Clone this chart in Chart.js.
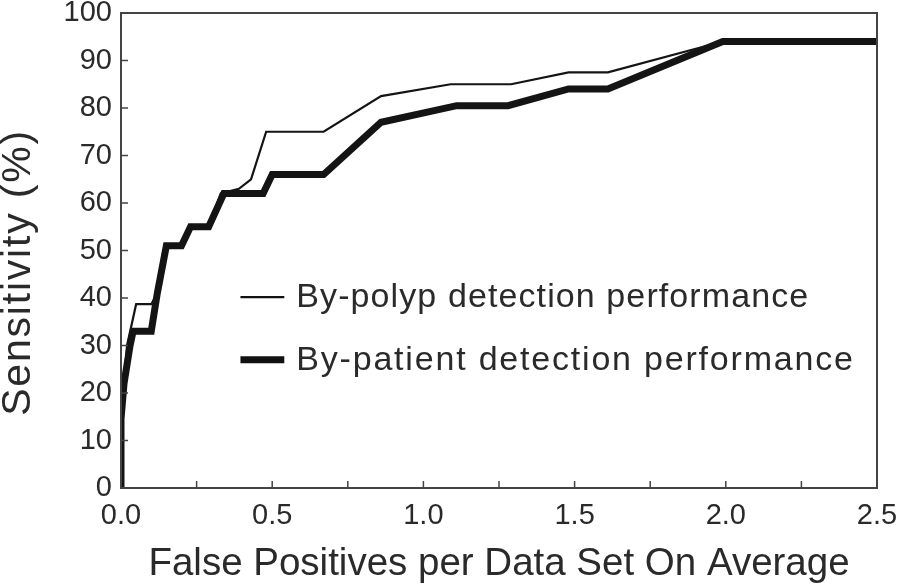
<!DOCTYPE html>
<html>
<head>
<meta charset="utf-8">
<script src="https://cdn.jsdelivr.net/npm/chart.js@4.4.1/dist/chart.umd.min.js"></script>
<style>
  html, body { margin: 0; padding: 0; background: #ffffff; }
  #wrap { width: 897px; height: 588px; }
</style>
</head>
<body>
<div id="wrap"><canvas id="c" width="897" height="588"></canvas></div>
<script>
// ---- data ----
const seriesNames = ['By-polyp detection performance', 'By-patient detection performance'];
const polypFP   = [0, 0, 0.01, 0.02, 0.05, 0.10, 0.12, 0.14, 0.15, 0.20, 0.23, 0.29, 0.33, 0.39, 0.43, 0.48, 0.67, 0.86, 1.09, 1.29, 1.48, 1.61, 1.99, 2.5];
const polypSens = [0, 15, 22, 30, 38.7, 38.7, 41, 50, 51, 51, 55, 55, 62, 63, 65, 75, 75, 82.5, 85, 85, 87.5, 87.5, 94, 94];
const patientFP   = [0, 0, 0.01, 0.03, 0.04, 0.10, 0.12, 0.15, 0.20, 0.23, 0.29, 0.34, 0.47, 0.50, 0.67, 0.86, 1.11, 1.28, 1.48, 1.61, 1.99, 2.5];
const patientSens = [0, 14.5, 22, 30, 33, 33, 41, 51, 51, 55, 55, 62, 62, 66, 66, 77, 80.5, 80.5, 84, 84, 94, 94];
const xTickLabels = ['0.0', '0.5', '1.0', '1.5', '2.0', '2.5'];
const xTitle = 'False Positives per Data Set On Average';
const yTitle = 'Sensitivity (%)';

const toPts = (xs, ys) => xs.map((x, i) => ({ x: x, y: ys[i] }));
const FONT = "'Liberation Sans', Arial, Helvetica, sans-serif";
const INK = '#2a2a2a';

// frame + inward ticks
const framePlugin = {
  id: 'frame',
  afterDraw(chart) {
    const { ctx, chartArea: a, scales } = chart;
    ctx.save();
    ctx.strokeStyle = '#444';
    ctx.lineWidth = 2;
    ctx.strokeRect(a.left, a.top, a.right - a.left, a.bottom - a.top);
    ctx.lineWidth = 1.5;
    ctx.beginPath();
    scales.x.ticks.forEach(t => {
      const px = scales.x.getPixelForValue(t.value);
      ctx.moveTo(px, a.bottom); ctx.lineTo(px, a.bottom - 7);
    });
    scales.y.ticks.forEach(t => {
      const py = scales.y.getPixelForValue(t.value);
      ctx.moveTo(a.left, py); ctx.lineTo(a.left + 7, py);
    });
    ctx.stroke();
    ctx.restore();
  }
};

// y-axis title (rotated) drawn with a little letter spacing
const yTitlePlugin = {
  id: 'ytitle',
  afterDraw(chart) {
    const { ctx, chartArea: a } = chart;
    ctx.save();
    ctx.translate(19, (a.top + a.bottom) / 2 + 22);
    ctx.rotate(-Math.PI / 2);
    ctx.font = '41px ' + FONT;
    if ('letterSpacing' in ctx) ctx.letterSpacing = '1.8px';
    ctx.fillStyle = INK;
    ctx.textAlign = 'center';
    ctx.textBaseline = 'middle';
    ctx.fillText(yTitle, 0, 0);
    ctx.restore();
  }
};

// in-plot legend
const legendPlugin = {
  id: 'inlegend',
  afterDraw(chart) {
    const { ctx, scales } = chart;
    const x0 = scales.x.getPixelForValue(0.395);
    const x1 = scales.x.getPixelForValue(0.54);
    const rows = [40.2, 27.0];
    const spacing = ['1.1px', '1.8px'];
    ctx.save();
    ctx.font = '34px ' + FONT;
    ctx.fillStyle = INK;
    ctx.textBaseline = 'middle';
    chart.data.datasets.slice().reverse().forEach((ds, i) => {
      const y = scales.y.getPixelForValue(rows[i]);
      ctx.strokeStyle = '#111';
      ctx.lineWidth = ds.borderWidth;
      ctx.beginPath(); ctx.moveTo(x0, y); ctx.lineTo(x1, y); ctx.stroke();
      if ('letterSpacing' in ctx) ctx.letterSpacing = spacing[i];
      ctx.fillText(ds.label, x1 + 12, y + 1);
    });
    ctx.restore();
  }
};

new Chart(document.getElementById('c'), {
  type: 'scatter',
  data: {
    datasets: [
      { label: seriesNames[1], data: toPts(patientFP, patientSens), showLine: true, borderColor: '#141414', borderWidth: 7, pointRadius: 0, borderJoinStyle: 'miter', tension: 0 },
      { label: seriesNames[0], data: toPts(polypFP, polypSens), showLine: true, borderColor: '#141414', borderWidth: 2.2, pointRadius: 0, tension: 0 }
    ]
  },
  options: {
    responsive: false,
    animation: false,
    devicePixelRatio: 1,
    layout: { padding: { left: 0, right: 20, top: 13, bottom: 0 } },
    plugins: { legend: { display: false }, tooltip: { enabled: false } },
    scales: {
      x: {
        type: 'linear', min: 0, max: 2.5,
        afterFit(s) { s.height = 100; s.paddingLeft = 0; s.paddingRight = 0; },
        grid: { display: false, drawTicks: false },
        border: { display: false },
        ticks: {
          stepSize: 0.25, autoSkip: false, maxRotation: 0, padding: 11,
          color: INK, font: { family: FONT, size: 29 },
          callback: (v) => { const k = Math.round(v * 2); return Math.abs(v * 2 - k) < 1e-6 ? xTickLabels[k] : ''; }
        },
        title: { display: true, text: xTitle, color: INK, font: { family: FONT, size: 38.5, lineHeight: 1.1 }, padding: { top: 0, bottom: 2 } }
      },
      y: {
        type: 'linear', min: 0, max: 100,
        afterFit(s) { s.width = 121; s.paddingTop = 0; s.paddingBottom = 0; },
        grid: { display: false, drawTicks: false },
        border: { display: false },
        ticks: { stepSize: 10, padding: 9, color: INK, font: { family: FONT, size: 29 } },
        title: { display: false }
      }
    }
  },
  plugins: [framePlugin, yTitlePlugin, legendPlugin]
});
</script>
</body>
</html>
